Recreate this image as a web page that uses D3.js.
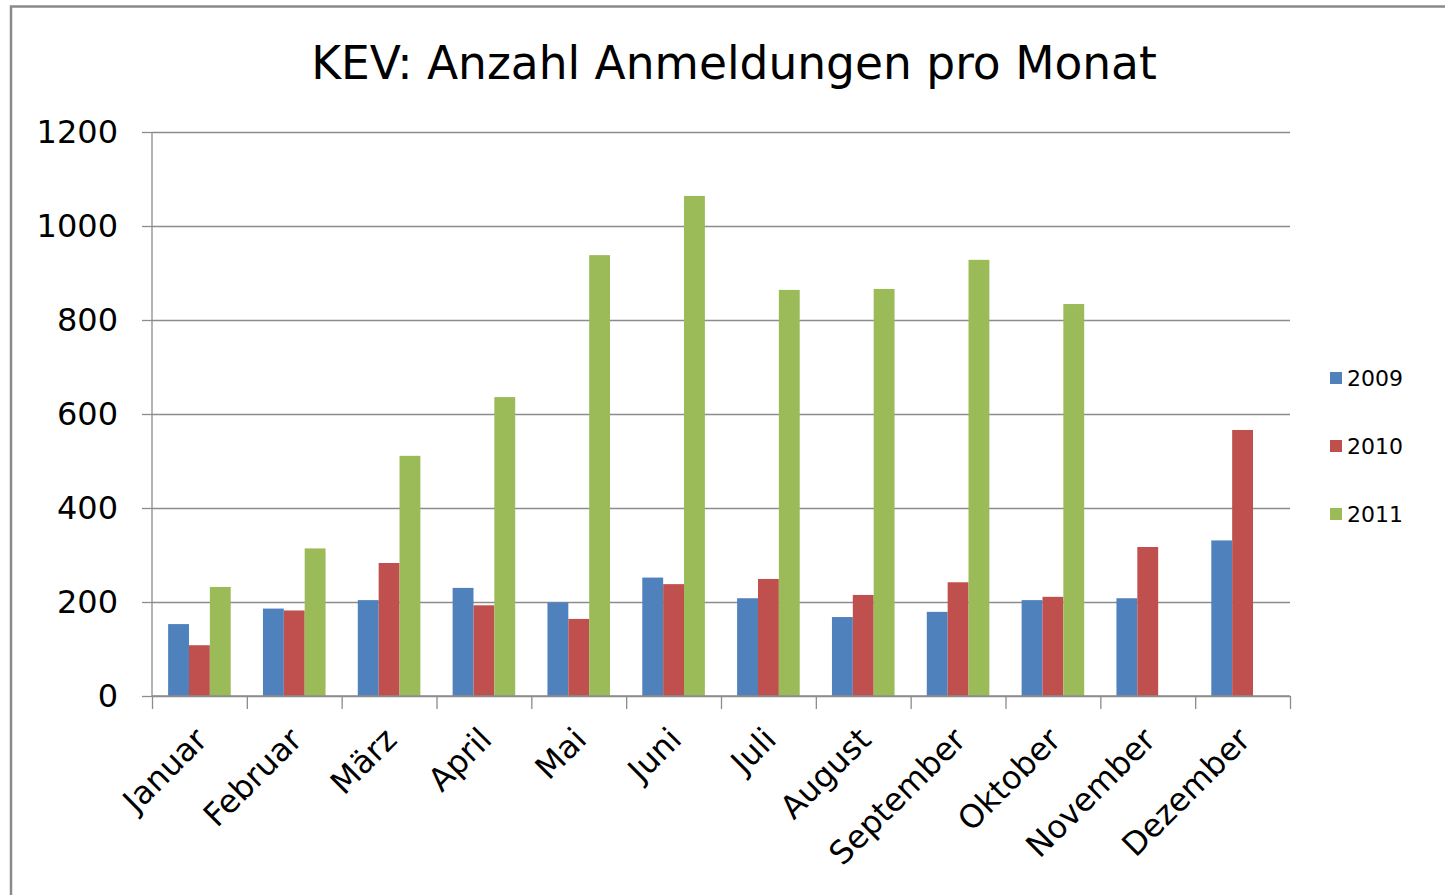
<!DOCTYPE html>
<html>
<head>
<meta charset="utf-8">
<script src="https://cdn.jsdelivr.net/npm/d3@7"></script>
<style>
  body { margin: 0; background: #fff; }
  text { font-family: "DejaVu Sans", Verdana, sans-serif; fill: #000; }
</style>
</head>
<body>
<div id="chart"></div>
<script>
// Werte
let months = ["Januar", "Februar", "März", "April", "Mai", "Juni", "Juli", "August", "September", "Oktober", "November", "Dezember"]
let years = ["2009", "2010", "2011"]
let values2009 = [153, 186, 204, 230, 199, 252, 208, 168, 179, 204, 208, 331]
let values2010 = [108, 182, 283, 193, 164, 238, 249, 215, 242, 211, 317, 566]
let values2011 = [232, 314, 511, 636, 938, 1064, 864, 866, 928, 834, null, null]
let yTicks = [0, 200, 400, 600, 800, 1000, 1200]
let colors = ["#4F81BD", "#C0504D", "#9BBB59"]

document.addEventListener('DOMContentLoaded', function() {
    drawChart();
});

function drawChart() {
    const width = 1445, height = 895;
    const margin = {top: 132, right: 155, bottom: 199, left: 152};
    const innerW = width - margin.left - margin.right;
    const innerH = height - margin.top - margin.bottom;

    const svg = d3.select("#chart").append("svg")
        .attr("width", width)
        .attr("height", height);

    // Rahmen
    svg.append("rect")
        .attr("x", 11).attr("y", 6.5)
        .attr("width", width + 20).attr("height", height + 20)
        .attr("fill", "none")
        .attr("stroke", "#8a8a8a")
        .attr("stroke-width", 2.5);

    // Titel
    svg.append("text")
        .attr("x", 734).attr("y", 79)
        .attr("text-anchor", "middle")
        .style("font-size", "45.5px")
        .text("KEV: Anzahl Anmeldungen pro Monat");

    const g = svg.append("g").attr("transform", `translate(${margin.left},${margin.top})`);

    const x0 = d3.scaleBand().domain(months).range([0, innerW]).padding(0);
    const gap = x0.bandwidth() * 0.17;
    const x1 = d3.scaleBand().domain(years).range([gap, x0.bandwidth() - gap]).padding(0);
    const y = d3.scaleLinear().domain([0, 1200]).range([innerH, 0]);

    // Gitternetz
    g.append("g")
        .attr("class", "grid")
        .call(d3.axisLeft(y).tickValues(yTicks).tickSize(-innerW).tickFormat(""))
        .call(sel => sel.select(".domain").remove())
        .selectAll("line")
        .attr("stroke", "#8c8c8c")
        .attr("stroke-width", 1.3);

    // Balken
    const series = [values2009, values2010, values2011];
    const rows = months.map((m, i) => ({month: m, vals: years.map((yr, k) => ({year: yr, value: series[k][i], color: colors[k]}))}));

    g.append("g").selectAll("g")
        .data(rows)
        .enter().append("g")
        .attr("transform", d => `translate(${x0(d.month)},0)`)
        .selectAll("rect")
        .data(d => d.vals.filter(v => v.value != null))
        .enter().append("rect")
        .attr("x", d => x1(d.year))
        .attr("width", x1.bandwidth())
        .attr("y", d => y(d.value))
        .attr("height", d => y(0) - y(d.value))
        .attr("fill", d => d.color);

    // Y-Achse
    const yAxis = g.append("g")
        .call(d3.axisLeft(y).tickValues(yTicks).tickSize(10).tickPadding(24).tickFormat(d3.format("d")));
    yAxis.selectAll("line").attr("stroke", "#8c8c8c").attr("stroke-width", 1.3);
    yAxis.select(".domain").attr("stroke", "#8c8c8c").attr("stroke-width", 1.3).attr("d", `M0,${innerH}V0`);
    yAxis.selectAll("text").style("font-size", "32px").attr("fill", "#000");

    // X-Achse
    const xTickScale = d3.scaleLinear().domain([0, months.length]).range([0, innerW]);
    const xAxis = g.append("g")
        .attr("transform", `translate(0,${innerH})`)
        .call(d3.axisBottom(xTickScale).ticks(months.length).tickSize(13).tickFormat(""));
    xAxis.selectAll("line").attr("stroke", "#8c8c8c").attr("stroke-width", 1.3);
    xAxis.select(".domain").attr("stroke", "#8c8c8c").attr("stroke-width", 1.3).attr("d", `M0,0H${innerW}`);

    g.append("g")
        .selectAll("text")
        .data(months)
        .enter().append("text")
        .attr("transform", d => `translate(${x0(d) + x0.bandwidth() / 2 - 4},${innerH + 32}) rotate(-45)`)
        .attr("text-anchor", "end")
        .attr("dy", "0.6em")
        .style("font-size", "32px")
        .text(d => d);

    // Legende
    const legend = svg.append("g")
        .selectAll("g")
        .data(years)
        .enter().append("g")
        .attr("transform", (d, i) => `translate(1330,${378 + i * 68})`);
    legend.append("rect")
        .attr("x", 0).attr("y", -6)
        .attr("width", 12).attr("height", 12)
        .attr("fill", (d, i) => colors[i]);
    legend.append("text")
        .attr("x", 17).attr("y", 0)
        .attr("dy", "0.36em")
        .style("font-size", "22px")
        .text(d => d);
}
</script>
</body>
</html>
